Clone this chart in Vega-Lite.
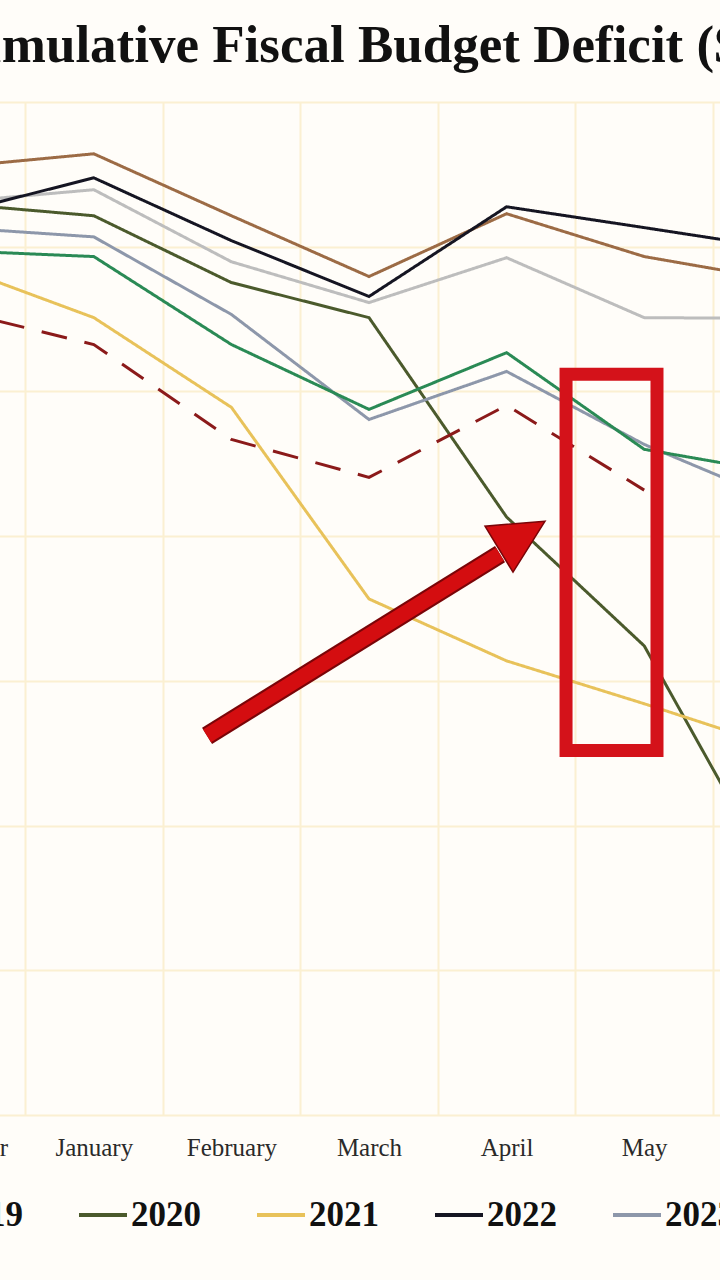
{
  "$schema": "https://vega.github.io/schema/vega-lite/v6.json",
  "width": 720,
  "height": 1013,
  "autosize": {"type": "none"},
  "padding": {"left": 0, "right": 0, "top": 102, "bottom": 165},
  "background": "#fffdf9",
  "title": {
    "text": "Cumulative Fiscal Budget Deficit ($bn)",
    "font": "Liberation Serif",
    "fontSize": 53,
    "fontWeight": "bold",
    "color": "#111111",
    "anchor": "start",
    "frame": "group",
    "dx": -66,
    "dy": 50,
    "baseline": "alphabetic",
    "offset": 37
  },
  "config": {
    "view": {"stroke": null},
    "axis": {"gridColor": "#fbf0d2", "gridWidth": 2, "gridOpacity": 1}
  },
  "layer": [
    {
      "data": {
        "values": [
          {"year": "2018", "month": "December", "deficit": -224},
          {"year": "2018", "month": "January", "deficit": -179},
          {"year": "2018", "month": "February", "deficit": -393},
          {"year": "2018", "month": "March", "deficit": -603},
          {"year": "2018", "month": "April", "deficit": -386},
          {"year": "2018", "month": "May", "deficit": -534},
          {"year": "2018", "month": "June", "deficit": -617},
          {"year": "2019", "month": "December", "deficit": -345},
          {"year": "2019", "month": "January", "deficit": -303},
          {"year": "2019", "month": "February", "deficit": -552},
          {"year": "2019", "month": "March", "deficit": -693},
          {"year": "2019", "month": "April", "deficit": -538},
          {"year": "2019", "month": "May", "deficit": -745},
          {"year": "2019", "month": "June", "deficit": -748},
          {"year": "2020", "month": "December", "deficit": -352},
          {"year": "2020", "month": "January", "deficit": -393},
          {"year": "2020", "month": "February", "deficit": -624},
          {"year": "2020", "month": "March", "deficit": -745},
          {"year": "2020", "month": "April", "deficit": -1434},
          {"year": "2020", "month": "May", "deficit": -1879},
          {"year": "2020", "month": "June", "deficit": -2731},
          {"year": "2021", "month": "December", "deficit": -569},
          {"year": "2021", "month": "January", "deficit": -745},
          {"year": "2021", "month": "February", "deficit": -1055},
          {"year": "2021", "month": "March", "deficit": -1717},
          {"year": "2021", "month": "April", "deficit": -1931},
          {"year": "2021", "month": "May", "deficit": -2079},
          {"year": "2021", "month": "June", "deficit": -2234},
          {"year": "2022", "month": "December", "deficit": -383},
          {"year": "2022", "month": "January", "deficit": -262},
          {"year": "2022", "month": "February", "deficit": -479},
          {"year": "2022", "month": "March", "deficit": -672},
          {"year": "2022", "month": "April", "deficit": -362},
          {"year": "2022", "month": "May", "deficit": -434},
          {"year": "2022", "month": "June", "deficit": -507},
          {"year": "2023", "month": "December", "deficit": -434},
          {"year": "2023", "month": "January", "deficit": -466},
          {"year": "2023", "month": "February", "deficit": -734},
          {"year": "2023", "month": "March", "deficit": -1097},
          {"year": "2023", "month": "April", "deficit": -931},
          {"year": "2023", "month": "May", "deficit": -1183},
          {"year": "2023", "month": "June", "deficit": -1383},
          {"year": "2024", "month": "December", "deficit": -514},
          {"year": "2024", "month": "January", "deficit": -534},
          {"year": "2024", "month": "February", "deficit": -838},
          {"year": "2024", "month": "March", "deficit": -1062},
          {"year": "2024", "month": "April", "deficit": -866},
          {"year": "2024", "month": "May", "deficit": -1200},
          {"year": "2024", "month": "June", "deficit": -1283},
          {"year": "2025", "month": "December", "deficit": -721},
          {"year": "2025", "month": "January", "deficit": -838},
          {"year": "2025", "month": "February", "deficit": -1166},
          {"year": "2025", "month": "March", "deficit": -1297},
          {"year": "2025", "month": "April", "deficit": -1048},
          {"year": "2025", "month": "May", "deficit": -1341}
        ]
      },
      "mark": {"type": "line", "strokeWidth": 3},
      "encoding": {
        "x": {
          "field": "month",
          "type": "nominal",
          "sort": ["December", "January", "February", "March", "April", "May", "June"],
          "scale": {
            "domain": ["December", "January", "February", "March", "April", "May", "June"],
            "range": [-112.6, 850.6],
            "paddingInner": 0,
            "paddingOuter": 0
          },
          "axis": {
            "title": null,
            "labelAngle": 0,
            "labelFont": "Liberation Serif",
            "labelFontSize": 25,
            "labelColor": "#2a2a2a",
            "labelPadding": 20,
            "ticks": false,
            "domain": false,
            "grid": true,
            "tickBand": "extent"
          }
        },
        "y": {
          "field": "deficit",
          "type": "quantitative",
          "scale": {"domain": [-3500, 0], "nice": false},
          "axis": {
            "title": null,
            "labels": false,
            "ticks": false,
            "domain": false,
            "grid": true,
            "values": [-3500, -3000, -2500, -2000, -1500, -1000, -500, 0]
          }
        },
        "color": {
          "field": "year",
          "type": "nominal",
          "scale": {
            "domain": ["2018", "2019", "2020", "2021", "2022", "2023", "2024", "2025"],
            "range": ["#9c6b45", "#bdbdbd", "#4b5a2c", "#e8c25a", "#151522", "#8d97aa", "#2a8a55", "#8b1a1a"]
          },
          "legend": {
            "title": null,
            "orient": "none",
            "direction": "horizontal",
            "columns": 8,
            "legendX": -279,
            "legendY": 1087,
            "symbolType": "stroke",
            "symbolSize": 2304,
            "symbolStrokeWidth": 4,
            "labelFont": "Liberation Serif",
            "labelFontWeight": "bold",
            "labelFontSize": 35,
            "labelColor": "#111111",
            "labelOffset": 2,
            "columnPadding": 48
          }
        },
        "strokeDash": {
          "field": "year",
          "type": "nominal",
          "scale": {
            "domain": ["2018", "2019", "2020", "2021", "2022", "2023", "2024", "2025"],
            "range": [[1, 0], [1, 0], [1, 0], [1, 0], [1, 0], [1, 0], [1, 0], [26, 18]]
          },
          "legend": {
            "title": null,
            "orient": "none",
            "direction": "horizontal",
            "columns": 8,
            "legendX": -279,
            "legendY": 1087,
            "symbolType": "stroke",
            "symbolSize": 2304,
            "symbolStrokeWidth": 4,
            "labelFont": "Liberation Serif",
            "labelFontWeight": "bold",
            "labelFontSize": 35,
            "labelColor": "#111111",
            "labelOffset": 2,
            "columnPadding": 48
          }
        }
      }
    },
    {
      "data": {"values": [{"m1": "April", "m2": "May", "top": -941, "bottom": -2241}]},
      "mark": {"type": "rect", "filled": false, "stroke": "#d4121a", "strokeWidth": 13},
      "encoding": {
        "x": {"field": "m1", "type": "nominal", "bandPosition": 0.932},
        "x2": {"field": "m2", "bandPosition": 0.593},
        "y": {"field": "top", "type": "quantitative"},
        "y2": {"field": "bottom"}
      }
    },
    {
      "data": {"values": [{"m1": "February", "m2": "April", "start": -2190, "end": -1562}]},
      "mark": {"type": "rule", "stroke": "#7a0508", "strokeWidth": 19, "strokeCap": "butt"},
      "encoding": {
        "x": {"field": "m1", "type": "nominal", "bandPosition": 0.323},
        "x2": {"field": "m2", "bandPosition": 0.452},
        "y": {"field": "start", "type": "quantitative"},
        "y2": {"field": "end"}
      }
    },
    {
      "data": {"values": [{"m1": "February", "m2": "April", "start": -2190, "end": -1562}]},
      "mark": {"type": "rule", "stroke": "#d40d10", "strokeWidth": 15, "strokeCap": "butt"},
      "encoding": {
        "x": {"field": "m1", "type": "nominal", "bandPosition": 0.323},
        "x2": {"field": "m2", "bandPosition": 0.452},
        "y": {"field": "start", "type": "quantitative"},
        "y2": {"field": "end"}
      }
    },
    {
      "data": {"values": [{"m": "April", "v": -1514}]},
      "mark": {
        "type": "point",
        "shape": "M 0.886 -0.543 L -0.829 -0.4 L -0.029 0.914 Z",
        "size": 4900,
        "filled": true,
        "fill": "#d40d10",
        "stroke": "#7a0508",
        "strokeWidth": 1.5,
        "opacity": 1
      },
      "encoding": {
        "x": {"field": "m", "type": "nominal", "bandPosition": 0.554},
        "y": {"field": "v", "type": "quantitative"}
      }
    }
  ]
}
